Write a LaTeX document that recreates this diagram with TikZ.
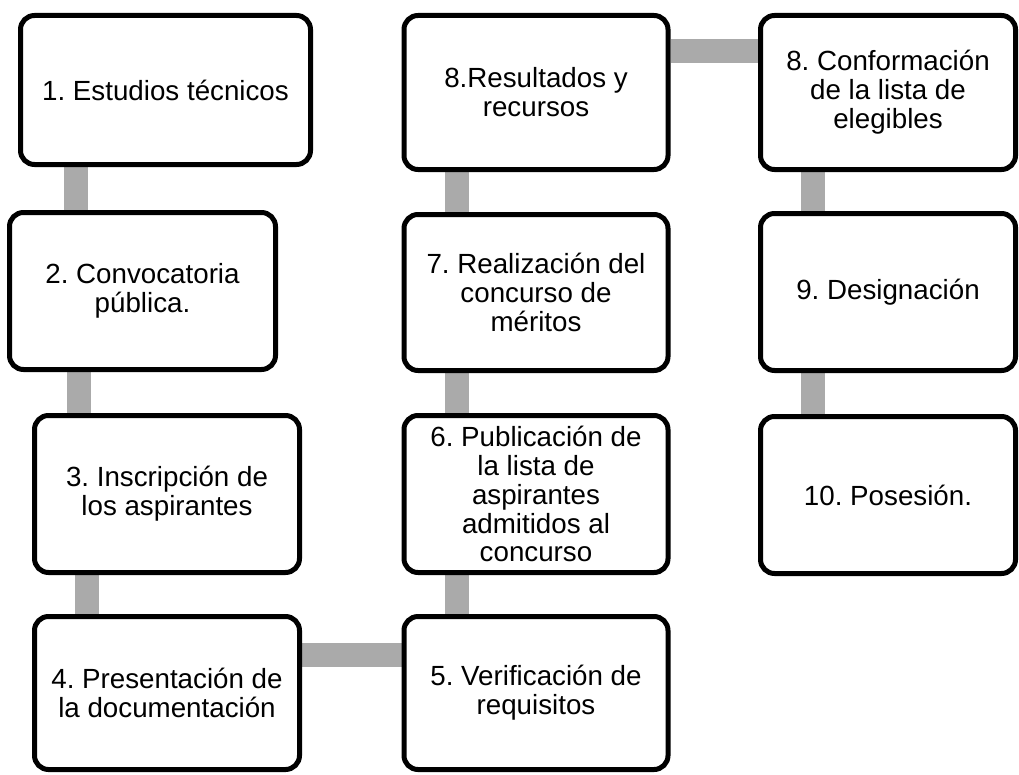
\documentclass[tikz,border=0pt]{standalone}
\usepackage{fontspec}
\setmainfont{Liberation Sans}
\usetikzlibrary{backgrounds}
\definecolor{bargrey}{HTML}{AAAAAA}
\frenchspacing
\tikzset{
  stepbox/.style={draw=black, fill=white, line width=3.75pt, rounded corners=10.5pt,
    inner sep=0pt, align=center, font=\fontsize{20.8}{21.7}\selectfont\frenchspacing},
  bar/.style={draw=bargrey, line width=18pt, line cap=butt}
}
\begin{document}
\begin{tikzpicture}[x=0.75pt, y=-0.75pt]
\useasboundingbox (0,0) rectangle (1019,774);
% column 1
\node[stepbox, minimum width=217.5pt, minimum height=111.75pt] (n1) at (165.5,90) {1. Estudios técnicos};
\node[stepbox, minimum width=199.5pt, minimum height=117.75pt] (n2) at (142.5,291) {2. Convocatoria\\pública.};
\node[stepbox, minimum width=198.75pt, minimum height=117.75pt] (n3) at (167,494) {3. Inscripción de\\los aspirantes};
\node[stepbox, minimum width=198.75pt, minimum height=114.75pt] (n4) at (167,693) {4. Presentación de\\la documentación};
% column 2
\node[stepbox, minimum width=198pt, minimum height=114.75pt] (n5) at (536,693) {5. Verificación de\\requisitos};
\node[stepbox, minimum width=198pt, minimum height=117.75pt] (n6) at (536,494) {6. Publicación de\\la lista de\\aspirantes\\admitidos al\\concurso};
\node[stepbox, minimum width=198pt, minimum height=117pt] (n7) at (536,292.5) {7. Realización del\\concurso de\\méritos};
\node[stepbox, minimum width=198pt, minimum height=115.5pt] (n8) at (536,92.5) {8.Resultados y\\recursos};
% column 3
\node[stepbox, minimum width=191.25pt, minimum height=115.5pt] (n8b) at (888,92.5) {8. Conformación\\de la lista de\\elegibles};
\node[stepbox, minimum width=191.25pt, minimum height=117.75pt] (n9) at (888,292) {9. Designación};
\node[stepbox, minimum width=191.25pt, minimum height=117.75pt] (n10) at (888,495) {10. Posesión.};
% connector positions
\coordinate (c12) at (75.5,0);
\coordinate (c23) at (79,0);
\coordinate (c34) at (87,0);
\coordinate (c45) at (0,654.5);
\coordinate (c2col) at (456.5,0);
\coordinate (c88) at (0,51);
\coordinate (c3col) at (813,0);
\begin{scope}[on background layer]
\draw[bar] (n1.south -| c12) -- (n2.north -| c12);
\draw[bar] (n2.south -| c23) -- (n3.north -| c23);
\draw[bar] (n3.south -| c34) -- (n4.north -| c34);
\draw[bar] (n4.east |- c45) -- (n5.west |- c45);
\draw[bar] (n5.north -| c2col) -- (n6.south -| c2col);
\draw[bar] (n6.north -| c2col) -- (n7.south -| c2col);
\draw[bar] (n7.north -| c2col) -- (n8.south -| c2col);
\draw[bar] (n8.east |- c88) -- (n8b.west |- c88);
\draw[bar] (n8b.south -| c3col) -- (n9.north -| c3col);
\draw[bar] (n9.south -| c3col) -- (n10.north -| c3col);
\end{scope}
\end{tikzpicture}
\end{document}
